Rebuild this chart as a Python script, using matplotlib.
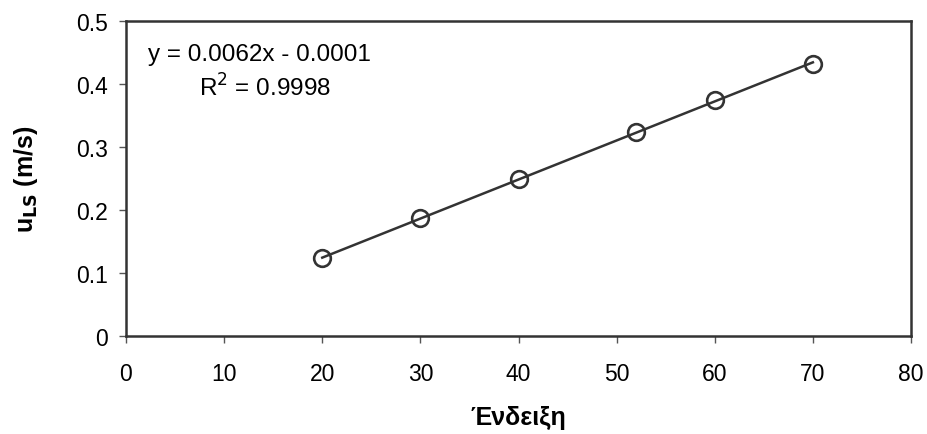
import matplotlib
matplotlib.use("Agg")
import matplotlib.pyplot as plt

plt.rcParams['font.family'] = ['Liberation Sans', 'DejaVu Sans']

# measured data
endeixi = [20, 30, 40, 52, 60, 70]
u_ls = [0.123, 0.187, 0.248, 0.323, 0.374, 0.431]

# linear trendline shown on the chart
slope = 0.0062
intercept = -0.0001
trend_x = [20, 70]
trend_y = [slope * x + intercept for x in trend_x]

xticks = [0, 10, 20, 30, 40, 50, 60, 70, 80]
yticks = [0, 0.1, 0.2, 0.3, 0.4, 0.5]
ytick_labels = ["0", "0.1", "0.2", "0.3", "0.4", "0.5"]

fig = plt.figure(figsize=(9.27, 4.35), dpi=100)
ax = fig.add_axes([126/927, 1 - 336.7/435, 785/927, 315/435])

ax.plot(trend_x, trend_y, color="#333333", lw=1.8, zorder=2)
ax.plot(endeixi, u_ls, ls="none", marker="o", ms=12, mfc="none",
        mec="#333333", mew=1.9, zorder=3)

ax.set_xlim(0, 80)
ax.set_ylim(0, 0.5)
ax.set_xticks(xticks)
ax.set_yticks(yticks)
ax.set_yticklabels(ytick_labels)
ax.tick_params(labelsize=16.5, length=5, width=1, color="#555555", pad=8)
ax.tick_params(axis="x", pad=14)
for s in ax.spines.values():
    s.set_color("#333333")
    s.set_linewidth(1.8)

ax.text(0.028, 0.893, "y = 0.0062x - 0.0001", transform=ax.transAxes,
        fontsize=17.5, va="center", ha="left")
ax.text(0.093, 0.79, r"R$^2$ = 0.9998", transform=ax.transAxes,
        fontsize=17.5, va="center", ha="left")

ax.set_xlabel("Ένδειξη", fontsize=18, fontweight="bold", labelpad=14)
ax.set_ylabel(r"u$_{\mathbf{LS}}$ (m/s)", fontsize=18, fontweight="bold", labelpad=26)

fig.savefig("out.png", dpi=100)
